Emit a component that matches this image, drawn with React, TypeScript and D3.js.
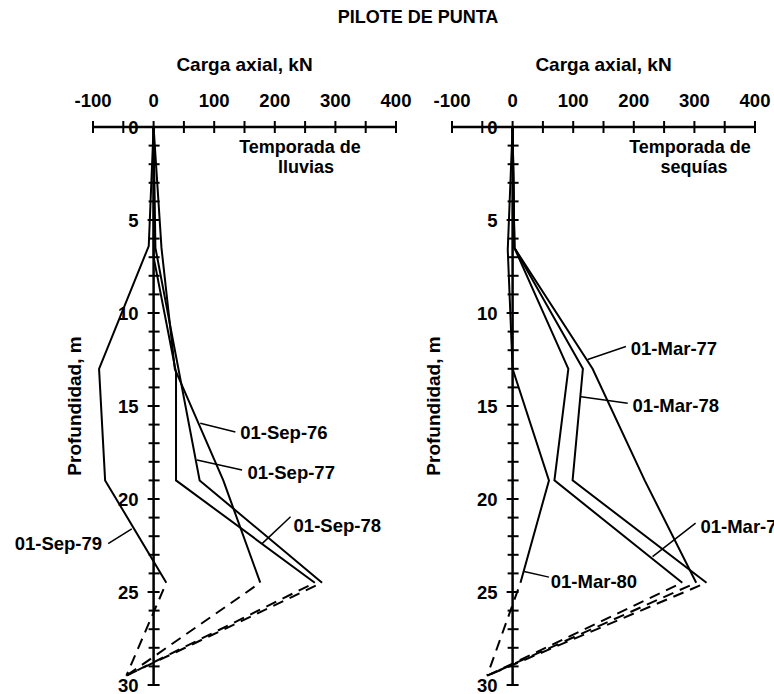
import React from "react";
import * as d3 from "d3";

// ---------- data ----------
const loadTicks = [-100, 0, 100, 200, 300, 400];
const depthTicks = [0, 5, 10, 15, 20, 25, 30];

const sep76Depth = [0, 6.5, 13, 19, 24.5];
const sep76Load = [0, 13, 35, 115, 176];
const sep77Depth = [0, 6.5, 19, 24.5];
const sep77Load = [0, 3, 76, 278];
const sep78Depth = [0, 7, 13.2, 19, 24.5];
const sep78Load = [0, 0, 37, 37, 266];
const sep79Depth = [0, 6.4, 13, 19, 24.5];
const sep79Load = [0, -8, -90, -80, 21];
const tipLeft = { load: -45, depth: 29.5 };

const mar77Depth = [0, 6.5, 13, 19, 24.5];
const mar77Load = [0, 3, 132, 218, 303];
const mar78Depth = [0, 6.5, 13, 19, 24.5];
const mar78Load = [0, 3, 116, 99, 320];
const mar79Depth = [0, 6.5, 13, 19, 24.5];
const mar79Load = [0, 3, 92, 69, 280];
const mar80Depth = [0, 6.6, 13, 19, 24.5];
const mar80Load = [0, -8, 0, 60, 13];
const tipRight = { load: -42, depth: 29.5 };

type Series = { name: string; depth: number[]; load: number[] };
const leftSeries: Series[] = [
  { name: "01-Sep-76", depth: sep76Depth, load: sep76Load },
  { name: "01-Sep-77", depth: sep77Depth, load: sep77Load },
  { name: "01-Sep-78", depth: sep78Depth, load: sep78Load },
  { name: "01-Sep-79", depth: sep79Depth, load: sep79Load },
];
const rightSeries: Series[] = [
  { name: "01-Mar-77", depth: mar77Depth, load: mar77Load },
  { name: "01-Mar-78", depth: mar78Depth, load: mar78Load },
  { name: "01-Mar-79", depth: mar79Depth, load: mar79Load },
  { name: "01-Mar-80", depth: mar80Depth, load: mar80Load },
];

// label annotations in data units: pointer from (l0,d0) to (l1,d1); text at (tl, td)
type Ann = { text: string; l0: number; d0: number; l1: number; d1: number; tl: number; td: number; anchor: string };
const leftAnn: Ann[] = [
  { text: "01-Sep-76", l0: 77, d0: 15.93, l1: 135, d1: 16.4, tl: 143, td: 16.45, anchor: "start" },
  { text: "01-Sep-77", l0: 71.5, d0: 17.9, l1: 146, d1: 18.44, tl: 155, td: 18.6, anchor: "start" },
  { text: "01-Sep-78", l0: 179, d0: 22.4, l1: 226, d1: 20.95, tl: 231, td: 21.4, anchor: "start" },
  { text: "01-Sep-79", l0: -36, d0: 21.6, l1: -75, d1: 22.4, tl: -85, td: 22.4, anchor: "end" },
];
const rightAnn: Ann[] = [
  { text: "01-Mar-77", l0: 124, d0: 12.5, l1: 187, d1: 11.8, tl: 195, td: 11.9, anchor: "start" },
  { text: "01-Mar-78", l0: 113, d0: 14.5, l1: 190, d1: 14.85, tl: 198, td: 14.95, anchor: "start" },
  { text: "01-Mar-79", l0: 231, d0: 23.1, l1: 302, d1: 21.3, tl: 310, td: 21.5, anchor: "start" },
  { text: "01-Mar-80", l0: 19, d0: 23.9, l1: 60, d1: 24.2, tl: 63, td: 24.45, anchor: "start" },
];

const leftSeason = ["Temporada de", "lluvias"];
const rightSeason = ["Temporada de", "sequías"];

// ---------- layout ----------
const W = 774;
const H = 694;
const FONT = "'Liberation Sans', Arial, sans-serif";
const FS = 18.5;
const FT = 19;
const FSEASON = 18;

const y = d3.scaleLinear().domain([0, 30]).range([127, 685]);

function Panel({ x, series, ann, season, seasonX, tip }: {
  x: d3.ScaleLinear<number, number>;
  series: Series[];
  ann: Ann[];
  season: string[];
  seasonX: number[];
  tip: { load: number; depth: number };
}) {
  const line = d3
    .line<[number, number]>()
    .x((p) => x(p[0]))
    .y((p) => y(p[1]));
  const minor = d3.range(-100, 401, 50);
  const yMinor = d3.range(0, 31, 1);
  const x0 = x(0);
  const [xa, xb] = x.range();
  return (
    <g>
      <text x={(xa + xb) / 2} y={64} textAnchor="middle" dominantBaseline="central"
        fontFamily={FONT} fontWeight="bold" fontSize={FT}>Carga axial, kN</text>
      {loadTicks.map((t) => (
        <text key={"xl" + t} x={x(t)} y={100} textAnchor="middle" dominantBaseline="central"
          fontFamily={FONT} fontWeight="bold" fontSize={FS}>{t}</text>
      ))}
      <line x1={xa} x2={xb} y1={y(0)} y2={y(0)} stroke="#000" strokeWidth={2.5} />
      {minor.map((t) => (
        <line key={"xt" + t} x1={x(t)} x2={x(t)} y1={y(0) - 6} y2={y(0) + 6} stroke="#000" strokeWidth={2} />
      ))}
      <line x1={x0} x2={x0} y1={y(0)} y2={y(30)} stroke="#000" strokeWidth={2.5} />
      {yMinor.map((t) => (
        <line key={"yt" + t} x1={x0 - (t % 5 === 0 ? 6 : 5)} x2={x0 + 6} y1={y(t)} y2={y(t)} stroke="#000" strokeWidth={2} />
      ))}
      {depthTicks.map((t) => (
        <text key={"yl" + t} x={x0 - 15} y={y(t)} textAnchor="end" dominantBaseline="central"
          fontFamily={FONT} fontWeight="bold" fontSize={FS}>{t}</text>
      ))}
      <text transform={`translate(${x0 - 79},${(y(0) + y(30)) / 2}) rotate(-90)`} textAnchor="middle"
        dominantBaseline="central" fontFamily={FONT} fontWeight="bold" fontSize={FT}>Profundidad, m</text>
      {series.map((s) => {
        const pts = s.depth.map((d, i) => [s.load[i], d] as [number, number]);
        const last = pts[pts.length - 1];
        return (
          <g key={s.name}>
            <path d={line(pts) || ""} fill="none" stroke="#000" strokeWidth={2} strokeLinejoin="miter" />
            <path d={line([last, [tip.load, tip.depth]]) || ""} fill="none" stroke="#000" strokeWidth={2}
              strokeDasharray="11 7" strokeDashoffset={11} />
          </g>
        );
      })}
      {ann.map((a) => (
        <g key={a.text}>
          <line x1={x(a.l0)} y1={y(a.d0)} x2={x(a.l1)} y2={y(a.d1)} stroke="#000" strokeWidth={1.5} />
          <text x={x(a.tl)} y={y(a.td)} textAnchor={a.anchor} dominantBaseline="central"
            fontFamily={FONT} fontWeight="bold" fontSize={FS}>{a.text}</text>
        </g>
      ))}
      {season.map((s, i) => (
        <text key={s} x={seasonX[i]} y={147 + i * 20} textAnchor="middle" dominantBaseline="central"
          fontFamily={FONT} fontWeight="bold" fontSize={FSEASON}>{s}</text>
      ))}
    </g>
  );
}

export default function App() {
  const xL = d3.scaleLinear().domain([-100, 400]).range([93, 396]);
  const xR = d3.scaleLinear().domain([-100, 400]).range([452, 755]);
  return (
    <svg width={W} height={H} style={{ position: "absolute", left: 0, top: 0, background: "#fff" }}>
      <rect width={W} height={H} fill="#fff" />
      <text x={418} y={17} textAnchor="middle" dominantBaseline="central" fontFamily={FONT}
        fontWeight="bold" fontSize={18}>PILOTE DE PUNTA</text>
      <Panel x={xL} series={leftSeries} ann={leftAnn} season={leftSeason} seasonX={[300, 306]} tip={tipLeft} />
      <Panel x={xR} series={rightSeries} ann={rightAnn} season={rightSeason} seasonX={[690, 694]} tip={tipRight} />
    </svg>
  );
}
